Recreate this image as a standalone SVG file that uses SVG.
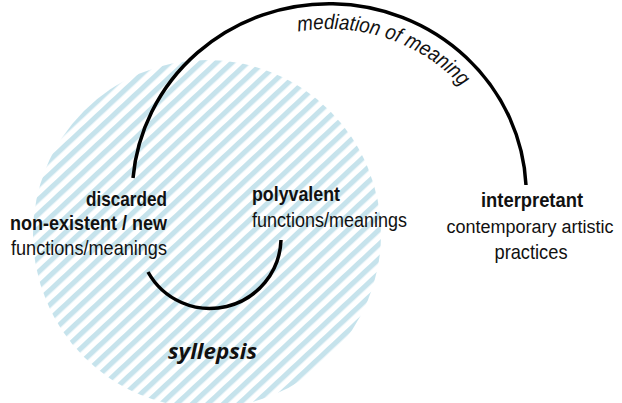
<svg xmlns="http://www.w3.org/2000/svg" width="622" height="403" viewBox="0 0 622 403">
<style>
  .t { font-family: "Liberation Sans", Arial, sans-serif; font-size: 21px; fill: #111; }
  .b { font-weight: bold; }
  .conn { fill: none; stroke: #000; stroke-width: 3.5; stroke-linecap: butt; }
</style>
<defs>
  <pattern id="hatch" width="10.6" height="10.6" patternUnits="userSpaceOnUse" patternTransform="rotate(47)">
    <rect x="0" y="0" width="5.2" height="10.6" fill="#c6e3ec"/>
  </pattern>
  <path id="medPath" d="M 152 200 A 177 171 0 0 1 506 200"/>
</defs>
<rect width="622" height="403" fill="#fff"/>
<g id="syllepsis-area">
  <circle cx="207" cy="234" r="174" fill="url(#hatch)"/>
</g>
<g id="connectors">
  <path id="mediation" class="conn" d="M 133 178 A 197 191 0 0 1 526 185"/>
  <path id="syllepsis-arc" class="conn" d="M 148 272 A 71 71 0 0 0 281 240"/>
  <text class="t" style="font-style:italic"><textPath href="#medPath" startOffset="242" textLength="180" lengthAdjust="spacingAndGlyphs">mediation of meaning</textPath></text>
</g>
<g id="node-discarded">
  <text class="t b" x="167" y="206" text-anchor="end" textLength="81" lengthAdjust="spacingAndGlyphs">discarded</text>
  <text class="t b" x="167" y="230" text-anchor="end" textLength="157" lengthAdjust="spacingAndGlyphs">non-existent / new</text>
  <text class="t" x="167" y="255" text-anchor="end" textLength="156" lengthAdjust="spacingAndGlyphs">functions/meanings</text>
</g>
<g id="node-polyvalent">
  <text class="t b" x="252" y="201" textLength="88" lengthAdjust="spacingAndGlyphs">polyvalent</text>
  <text class="t" x="252" y="227" textLength="155" lengthAdjust="spacingAndGlyphs">functions/meanings</text>
</g>
<g id="node-interpretant">
  <text class="t b" x="532" y="207" text-anchor="middle" textLength="102" lengthAdjust="spacingAndGlyphs">interpretant</text>
  <text class="t" x="530" y="233" text-anchor="middle" style="font-size:18px">contemporary artistic</text>
  <text class="t" x="531" y="259" text-anchor="middle" textLength="73" lengthAdjust="spacingAndGlyphs">practices</text>
</g>
<g id="label-syllepsis">
  <text x="168" y="359" font-family="'Open Sans', 'Noto Sans', sans-serif" font-size="21" font-weight="bold" font-style="italic" fill="#111" textLength="89" lengthAdjust="spacingAndGlyphs">syllepsis</text>
</g>
</svg>
